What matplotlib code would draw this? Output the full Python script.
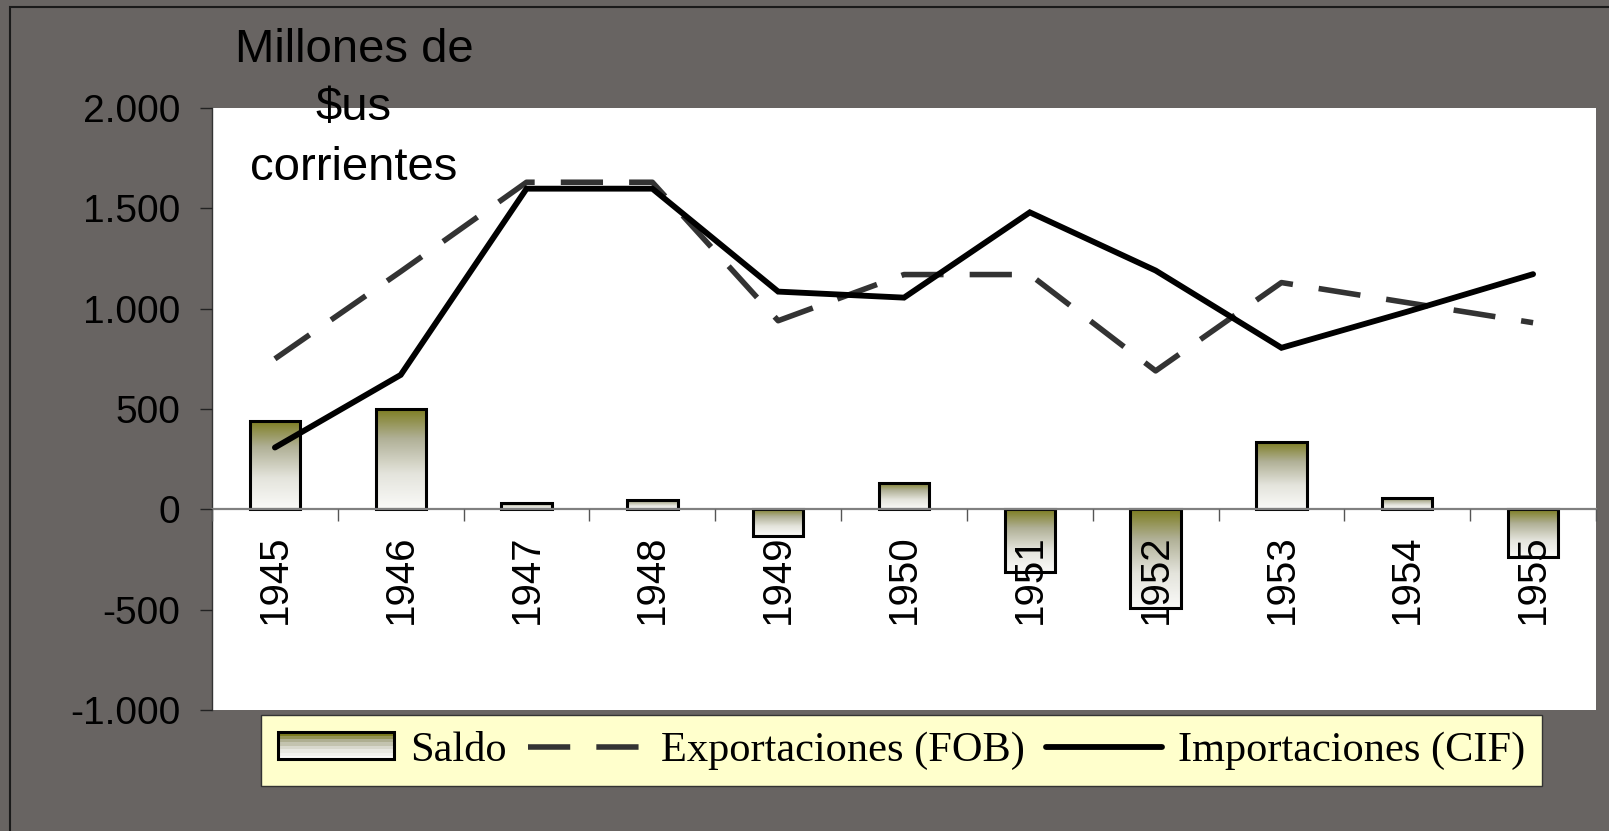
import numpy as np
import matplotlib
matplotlib.use('Agg')
import matplotlib.pyplot as plt
from matplotlib.patches import Rectangle
from matplotlib.colors import LinearSegmentedColormap
from matplotlib.legend_handler import HandlerBase

# data (millones de $us corrientes)
years = ['1945', '1946', '1947', '1948', '1949', '1950', '1951', '1952', '1953', '1954', '1955']
saldo = [440, 500, 30, 45, -135, 130, -310, -490, 335, 58, -238]
exportaciones = [750, 1185, 1630, 1630, 940, 1170, 1170, 690, 1130, 1030, 930]
importaciones = [308, 670, 1598, 1598, 1085, 1055, 1480, 1190, 805, 985, 1172]

y_ticks = [-1000, -500, 0, 500, 1000, 1500, 2000]
y_tick_labels = ['-1.000', '-500', '0', '500', '1.000', '1.500', '2.000']

plt.rcParams['font.family'] = ['Liberation Sans', 'DejaVu Sans']

bg = '#686462'
cmap = LinearSegmentedColormap.from_list(
    'olive', [(0, '#fafaf8'), (0.35, '#e4e4dc'), (0.7, '#b0b096'), (1, '#7c7c1e')])

fig = plt.figure(figsize=(16.09, 8.31), dpi=100, facecolor=bg)
ax = fig.add_axes([212 / 1609, 1 - 710 / 831, 1384 / 1609, 602 / 831])
ax.set_facecolor('white')

x = np.arange(len(years))

# bars: outline from ax.bar, gradient fill from imshow inside each bar
bars = ax.bar(x, saldo, width=0.4, facecolor='none', edgecolor='black',
              linewidth=2.2, zorder=2.2)
grad = np.linspace(0, 1, 256).reshape(-1, 1)
for b in bars:
    x0, w = b.get_x(), b.get_width()
    y0, h = b.get_y(), b.get_height()
    lo, hi = min(y0, y0 + h), max(y0, y0 + h)
    ax.imshow(grad, extent=[x0, x0 + w, lo, hi], origin='lower', cmap=cmap,
              aspect='auto', interpolation='bilinear', zorder=2)

exp_line, = ax.plot(x, exportaciones, color='#333333', lw=4.0,
                    dashes=(7.6, 4.7), dash_capstyle='butt', zorder=3)
imp_line, = ax.plot(x, importaciones, color='black', lw=4.2,
                    solid_capstyle='round', solid_joinstyle='miter', zorder=3.1)

ax.set_xlim(-0.5, 10.5)
ax.set_ylim(-1000, 2000)

# axes styling
for s in ['top', 'right']:
    ax.spines[s].set_visible(False)
ax.spines['left'].set_color('#333333')
ax.spines['left'].set_linewidth(1.0)
ax.spines['bottom'].set_position(('data', 0))
ax.spines['bottom'].set_color('#808080')
ax.spines['bottom'].set_linewidth(1.6)
ax.set_axisbelow(False)

ax.set_yticks(y_ticks)
ax.set_yticklabels(y_tick_labels)
ax.tick_params(axis='y', length=8.6, width=1, color='#222222', pad=14,
               labelsize=28, labelcolor='black')

ax.set_xticks(np.arange(-0.5, 11, 1))
ax.set_xticklabels([])
ax.tick_params(axis='x', which='major', length=8.6, width=1, color='#555555')
ax.set_xticks(x, minor=True)
ax.set_xticklabels(years, minor=True, rotation=90)
ax.tick_params(axis='x', which='minor', length=0, pad=18, labelsize=29)

# unit label at the top left
cx = 354 / 1609
fig.text(cx, 1 - 62 / 831, 'Millones de', ha='center', va='baseline', fontsize=34)
fig.text(cx, 1 - 120 / 831, '\\$us', ha='center', va='baseline', fontsize=34)
fig.text(cx, 1 - 180 / 831, 'corrientes', ha='center', va='baseline', fontsize=34)


# legend with a banded gradient key for Saldo
class GradientKey:
    pass


class GradientHandler(HandlerBase):
    def create_artists(self, legend, orig_handle, xdescent, ydescent,
                       width, height, fontsize, trans):
        arts = []
        n = 8
        for k in range(n):
            r = Rectangle((-xdescent, -ydescent + height * k / n), width, height / n,
                          facecolor=cmap(k / (n - 1)), edgecolor='none', transform=trans)
            arts.append(r)
        outline = Rectangle((-xdescent, -ydescent), width, height, facecolor='none',
                            edgecolor='black', linewidth=2.2, transform=trans)
        arts.append(outline)
        return arts


leg = ax.legend([GradientKey(), exp_line, imp_line],
                ['Saldo', 'Exportaciones (FOB)', 'Importaciones (CIF)'],
                handler_map={GradientKey: GradientHandler()},
                loc='center', bbox_to_anchor=(901.5 / 1609, 1 - 750.5 / 831),
                bbox_transform=fig.transFigure, ncol=3,
                prop={'family': 'Liberation Serif', 'size': 30.5},
                handlelength=2.75, handleheight=0.6, handletextpad=0.38,
                columnspacing=0.5, borderpad=0.38, borderaxespad=0,
                frameon=True, fancybox=False, facecolor='#ffffcc',
                edgecolor='#333333', framealpha=1)
leg.get_frame().set_linewidth(1.0)

# outer chart border (left and top visible)
fig.add_artist(Rectangle((10 / 1609, -0.05), 1.1, 1.05 - 7 / 831, fill=False,
                         edgecolor='#1a1a1a', linewidth=1.5,
                         transform=fig.transFigure))

fig.savefig('out.png', dpi=100, facecolor=fig.get_facecolor())
